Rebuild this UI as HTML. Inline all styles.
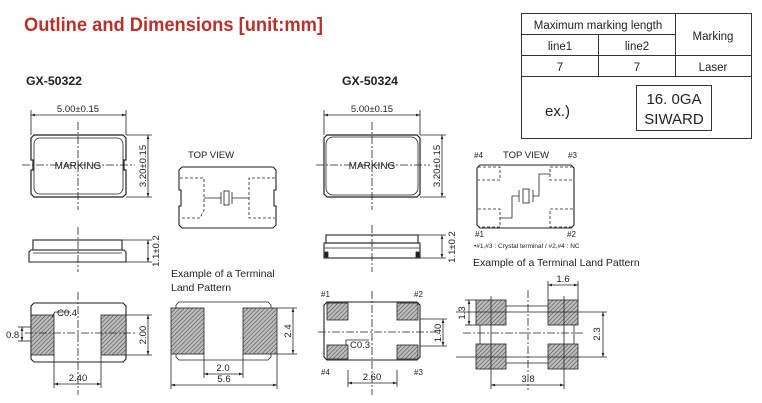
<!DOCTYPE html>
<html><head><meta charset="utf-8"><style>
body{margin:0;background:#fff;width:762px;height:403px;overflow:hidden}
svg{display:block}
text{font-family:"Liberation Sans",sans-serif;fill:#222}
</style></head><body>
<svg width="762" height="403" viewBox="0 0 762 403" xmlns="http://www.w3.org/2000/svg">
<defs>
<pattern id="h" width="3" height="3" patternUnits="userSpaceOnUse" patternTransform="rotate(45)">
<rect width="3" height="3" fill="#bbb"/><line x1="0" y1="0" x2="0" y2="3" stroke="#444" stroke-width="1"/></pattern>
<marker id="a" viewBox="0 0 6 6" refX="6" refY="3" markerWidth="5" markerHeight="5" orient="auto-start-reverse"><path d="M0,1 L6,3 L0,5z" fill="#222"/></marker>
</defs>
<text x="24" y="31" font-size="19.5" font-weight="bold" textLength="299" lengthAdjust="spacingAndGlyphs" style="fill:#b8312a">Outline and Dimensions [unit:mm]</text>
<text x="26" y="85" font-size="12" font-weight="bold" textLength="56" lengthAdjust="spacingAndGlyphs">GX-50322</text>
<text x="342" y="85" font-size="12" font-weight="bold" textLength="56" lengthAdjust="spacingAndGlyphs">GX-50324</text>

<!-- table -->
<g stroke="#333" stroke-width="1" fill="none">
<rect x="521.5" y="13.5" width="230" height="125"/>
<line x1="521" y1="34.5" x2="675" y2="34.5"/>
<line x1="521" y1="55.5" x2="751" y2="55.5"/>
<line x1="521" y1="76.5" x2="751" y2="76.5"/>
<line x1="675.5" y1="13" x2="675.5" y2="76"/>
<line x1="598.5" y1="34" x2="598.5" y2="76"/>
<rect x="636.5" y="85.5" width="75" height="45"/>
</g>
<g font-size="11.5" text-anchor="middle">
<text x="598" y="29">Maximum marking length</text>
<text x="560" y="50">line1</text><text x="637" y="50">line2</text>
<text x="713" y="40">Marking</text>
<text x="560" y="71">7</text><text x="637" y="71">7</text><text x="713" y="71">Laser</text>
</g>
<text x="545" y="116" font-size="15">ex.)</text>
<text x="674" y="104" font-size="15" text-anchor="middle">16. 0GA</text>
<text x="674" y="124" font-size="15" text-anchor="middle">SIWARD</text>

<g stroke="#222" stroke-width="0.8" fill="none">
<!-- LEFT top outline -->
<path d="M34,135 H123 L126,138 V160 H124 V170 H126 V194 L123,197 H34 L31,194 V170 H33 V160 H31 V138Z" stroke-width="1.2"/>
<rect x="34" y="138" width="89" height="56" rx="6"/>
<line x1="31" y1="110" x2="31" y2="135"/><line x1="126" y1="110" x2="126" y2="135"/>
<line x1="31" y1="115" x2="126" y2="115" marker-start="url(#a)" marker-end="url(#a)"/>
<line x1="126" y1="135" x2="152" y2="135"/><line x1="126" y1="197" x2="152" y2="197"/>
<line x1="148" y1="135" x2="148" y2="197" marker-start="url(#a)" marker-end="url(#a)"/>
<line x1="78" y1="122" x2="78" y2="210" stroke-dasharray="8,2,2,2"/>
<line x1="22" y1="165" x2="135" y2="165" stroke-dasharray="8,2,2,2"/>
<!-- left side view -->
<rect x="33" y="240" width="89" height="10" stroke-width="1.1"/>
<path d="M31,250 H124 L126,252 V262 H29 V252Z" stroke-width="1.1"/>
<line x1="33" y1="253" x2="122" y2="253"/>
<line x1="122" y1="240" x2="152" y2="240"/><line x1="126" y1="262" x2="152" y2="262"/>
<line x1="148" y1="240" x2="148" y2="262" marker-start="url(#a)" marker-end="url(#a)"/>
<line x1="78" y1="227" x2="78" y2="272" stroke-dasharray="8,2,2,2"/>
<!-- left bottom view -->
<path d="M34,303 H123 L126,306 V359 L123,362 H34 L31,359 V306Z" stroke-width="1.1"/>
<rect x="31" y="315" width="23" height="40" fill="url(#h)"/>
<rect x="101" y="315" width="25" height="40" fill="url(#h)"/>
<line x1="78" y1="292" x2="78" y2="395" stroke-dasharray="8,2,2,2"/>
<line x1="25" y1="333" x2="135" y2="333" stroke-dasharray="8,2,2,2"/>
<path d="M52,317 L55,312 H70"/>
<line x1="18" y1="327" x2="31" y2="327"/><line x1="18" y1="341" x2="31" y2="341"/>
<line x1="22" y1="327" x2="22" y2="341" marker-start="url(#a)" marker-end="url(#a)"/>
<line x1="126" y1="315" x2="152" y2="315"/><line x1="126" y1="355" x2="152" y2="355"/>
<line x1="148" y1="315" x2="148" y2="355" marker-start="url(#a)" marker-end="url(#a)"/>
<line x1="54" y1="355" x2="54" y2="388"/><line x1="101" y1="355" x2="101" y2="388"/>
<line x1="54" y1="384" x2="101" y2="384" marker-start="url(#a)" marker-end="url(#a)"/>
<!-- left top view -->
<path d="M182,167 H273 L276,170 V190 H274 V206 H276 V225 L273,228 H182 L179,225 V206 H181 V190 H179 V170Z" stroke-width="1.1"/>
<path d="M180,178 H204 V210 L200,218 H180" stroke-dasharray="3,2"/>
<path d="M275,178 H249 V218 H275" stroke-dasharray="3,2"/>
<line x1="204" y1="198" x2="221" y2="198"/><line x1="232" y1="198" x2="249" y2="198"/>
<line x1="221" y1="192" x2="221" y2="204"/><line x1="232" y1="192" x2="232" y2="204"/>
<rect x="224" y="191" width="5" height="14"/>
<!-- left land pattern -->
<path d="M179,302 H268 L271,305 V357 L268,360 H179 L176,357 V305Z"/>
<rect x="171" y="308" width="33" height="46" fill="url(#h)"/>
<rect x="243" y="308" width="34" height="46" fill="url(#h)"/>
<line x1="277" y1="308" x2="297" y2="308"/><line x1="277" y1="354" x2="297" y2="354"/>
<line x1="293" y1="308" x2="293" y2="354" marker-start="url(#a)" marker-end="url(#a)"/>
<line x1="204" y1="354" x2="204" y2="378"/><line x1="243" y1="354" x2="243" y2="378"/>
<line x1="204" y1="374" x2="243" y2="374" marker-start="url(#a)" marker-end="url(#a)"/>
<line x1="171" y1="354" x2="171" y2="389"/><line x1="277" y1="354" x2="277" y2="389"/>
<line x1="171" y1="385" x2="277" y2="385" marker-start="url(#a)" marker-end="url(#a)"/>

<!-- RIGHT top outline -->
<path d="M327,135 H417 L420,138 V194 L417,197 H327 L324,194 V138Z" stroke-width="1.2"/>
<rect x="326" y="137" width="92" height="58" rx="7"/>
<line x1="324" y1="110" x2="324" y2="135"/><line x1="420" y1="110" x2="420" y2="135"/>
<line x1="324" y1="115" x2="420" y2="115" marker-start="url(#a)" marker-end="url(#a)"/>
<line x1="420" y1="135" x2="446" y2="135"/><line x1="420" y1="197" x2="446" y2="197"/>
<line x1="442" y1="135" x2="442" y2="197" marker-start="url(#a)" marker-end="url(#a)"/>
<line x1="372" y1="122" x2="372" y2="210" stroke-dasharray="8,2,2,2"/>
<line x1="316" y1="165" x2="430" y2="165" stroke-dasharray="8,2,2,2"/>
<!-- right side -->
<rect x="326" y="235" width="92" height="8" stroke-width="1.1"/>
<rect x="324" y="243" width="96" height="15" stroke-width="1.1"/>
<line x1="324" y1="248" x2="420" y2="248"/>
<rect x="325" y="252" width="3" height="5" fill="#222"/><rect x="416" y="252" width="3" height="5" fill="#222"/>
<line x1="418" y1="235" x2="446" y2="235"/><line x1="420" y1="258" x2="446" y2="258"/>
<line x1="442" y1="235" x2="442" y2="258" marker-start="url(#a)" marker-end="url(#a)"/>
<line x1="372" y1="225" x2="372" y2="272" stroke-dasharray="8,2,2,2"/>
<!-- right bottom -->
<path d="M327,302 H417 L420,305 V357 L417,360 H327 L324,357 V305Z" stroke-width="1.1"/>
<rect x="327" y="303" width="21" height="17" fill="url(#h)"/>
<rect x="397" y="303" width="21" height="17" fill="url(#h)"/>
<rect x="327" y="345" width="21" height="14" fill="url(#h)"/>
<rect x="397" y="345" width="21" height="14" fill="url(#h)"/>
<line x1="372" y1="291" x2="372" y2="395" stroke-dasharray="8,2,2,2"/>
<line x1="318" y1="332" x2="436" y2="332" stroke-dasharray="8,2,2,2"/>
<path d="M346,345 V340 H369"/>
<line x1="420" y1="319" x2="447" y2="319"/><line x1="420" y1="346" x2="447" y2="346"/>
<line x1="443" y1="319" x2="443" y2="346" marker-start="url(#a)" marker-end="url(#a)"/>
<line x1="348" y1="370" x2="348" y2="387"/><line x1="397" y1="370" x2="397" y2="387"/>
<line x1="348" y1="383" x2="397" y2="383" marker-start="url(#a)" marker-end="url(#a)"/>
<!-- right top view -->
<path d="M480,165 H571 L574,168 V225 L571,228 H480 L477,225 V168Z" stroke-width="1.1"/>
<path d="M478,167 H500 V180 H478" stroke-dasharray="3,2"/>
<path d="M573,167 H550 V180 H573" stroke-dasharray="3,2"/>
<path d="M478,209 H500 V227 H478" stroke-dasharray="3,2"/>
<path d="M573,209 H550 V227 H573" stroke-dasharray="3,2"/>
<path d="M500,218 H512 V196 H519"/><path d="M533,196 H539 V174 H550"/>
<line x1="519" y1="190" x2="519" y2="202"/><line x1="533" y1="190" x2="533" y2="202"/>
<rect x="523" y="189" width="6" height="14"/>
<!-- right land pattern -->
<path d="M484,306 H570 L574,310 V359 L570,363 H484 L480,359 V310Z"/>
<rect x="476" y="300" width="30" height="25" fill="url(#h)"/>
<rect x="548" y="300" width="30" height="25" fill="url(#h)"/>
<rect x="476" y="344" width="30" height="25" fill="url(#h)"/>
<rect x="548" y="344" width="30" height="25" fill="url(#h)"/>
<line x1="491" y1="296" x2="491" y2="389"/><line x1="564" y1="296" x2="564" y2="389"/>
<line x1="456" y1="312" x2="607" y2="312"/><line x1="456" y1="357" x2="607" y2="357"/>
<line x1="528" y1="290" x2="528" y2="390" stroke-dasharray="8,2,2,2"/>
<line x1="463" y1="333" x2="584" y2="333" stroke-dasharray="8,2,2,2"/>
<line x1="548" y1="281" x2="548" y2="300"/><line x1="578" y1="281" x2="578" y2="300"/>
<line x1="548" y1="285" x2="578" y2="285" marker-start="url(#a)" marker-end="url(#a)"/>
<line x1="465" y1="300" x2="476" y2="300"/><line x1="465" y1="325" x2="476" y2="325"/>
<line x1="469" y1="300" x2="469" y2="325" marker-start="url(#a)" marker-end="url(#a)"/>
<line x1="603" y1="312" x2="603" y2="357" marker-start="url(#a)" marker-end="url(#a)"/>
<line x1="491" y1="385" x2="564" y2="385" marker-start="url(#a)" marker-end="url(#a)"/>
</g>

<g font-size="9.5">
<text x="78" y="112" text-anchor="middle">5.00±0.15</text>
<text x="78" y="169" text-anchor="middle" font-size="10">MARKING</text>
<text transform="translate(146,166) rotate(-90)" text-anchor="middle">3.20±0.15</text>
<text transform="translate(159,251) rotate(-90)" text-anchor="middle">1.1±0.2</text>
<text x="57" y="316">C0.4</text>
<text x="6" y="338">0.8</text>
<text transform="translate(146,335) rotate(-90)" text-anchor="middle">2.00</text>
<text x="78" y="381" text-anchor="middle">2.40</text>
<text x="211" y="158" text-anchor="middle">TOP VIEW</text>
<text x="171" y="277" font-size="10.5">Example of a Terminal</text>
<text x="171" y="291" font-size="10.5">Land Pattern</text>
<text transform="translate(291,331) rotate(-90)" text-anchor="middle">2.4</text>
<text x="223" y="371" text-anchor="middle">2.0</text>
<text x="224" y="382" text-anchor="middle">5.6</text>

<text x="372" y="112" text-anchor="middle">5.00±0.15</text>
<text x="372" y="169" text-anchor="middle" font-size="10">MARKING</text>
<text transform="translate(440,166) rotate(-90)" text-anchor="middle">3.20±0.15</text>
<text transform="translate(455,247) rotate(-90)" text-anchor="middle">1.1±0.2</text>
<text x="321" y="297" font-size="8">#1</text><text x="414" y="297" font-size="8">#2</text>
<text x="321" y="375" font-size="8">#4</text><text x="414" y="375" font-size="8">#3</text>
<text x="350" y="348">C0.3</text>
<text transform="translate(441,333) rotate(-90)" text-anchor="middle">1.40</text>
<text x="372" y="380" text-anchor="middle">2.60</text>
<text x="474" y="158" font-size="8">#4</text>
<text x="526" y="158" text-anchor="middle">TOP VIEW</text>
<text x="568" y="158" font-size="8">#3</text>
<text x="475" y="237" font-size="8">#1</text><text x="567" y="237" font-size="8">#2</text>
<text x="474" y="248" font-size="6.5">•#1,#3 : Crystal terminal / #2,#4 : NC</text>
<text x="473" y="266" font-size="10.5">Example of a Terminal Land Pattern</text>
<text x="563" y="282" text-anchor="middle">1.6</text>
<text transform="translate(465,313) rotate(-90)" text-anchor="middle">1.3</text>
<text transform="translate(600,334) rotate(-90)" text-anchor="middle">2.3</text>
<text x="528" y="382" text-anchor="middle">3.8</text>
</g>
</svg>
</body></html>
